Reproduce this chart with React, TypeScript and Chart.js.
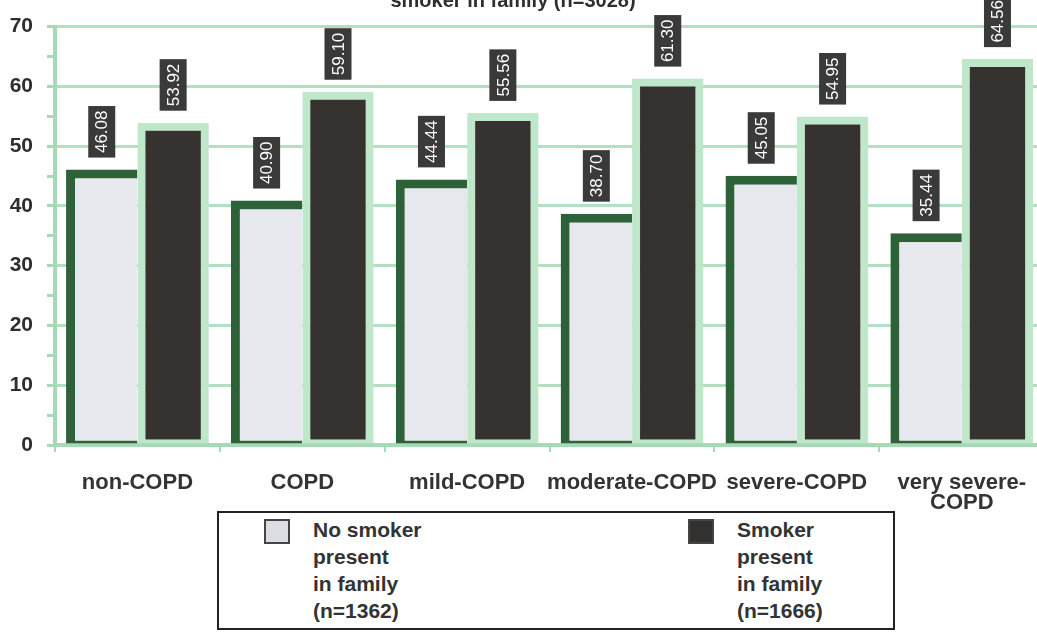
import React, { useEffect, useRef } from "react";
import { Chart, registerables } from "chart.js";

Chart.register(...registerables);

const categories: (string | string[])[] = [
  "non-COPD",
  "COPD",
  "mild-COPD",
  "moderate-COPD",
  "severe-COPD",
  ["very severe-", "COPD"],
];
const noSmoker = [46.08, 40.9, 44.44, 38.7, 45.05, 35.44];
const smoker = [53.92, 59.1, 55.56, 61.3, 54.95, 64.56];
const yMin = 0;
const yMax = 70;
const yStep = 5;
const titleText = "smoker in family (n=3028)";
const legendNoSmoker = ["No smoker", "present", "in family", "(n=1362)"];
const legendSmoker = ["Smoker", "present", "in family", "(n=1666)"];

const FONT = '"Liberation Sans", Arial, sans-serif';
const GRID_GREEN = "#b3e0c1";
const AXIS_GREEN = "#a6d9b4";

const valueBoxes = {
  id: "valueBoxes",
  afterDatasetsDraw(chart: any) {
    const ctx = chart.ctx;
    ctx.save();
    ctx.font = `17px ${FONT}`;
    chart.data.datasets.forEach((ds: any, di: number) => {
      const meta = chart.getDatasetMeta(di);
      meta.data.forEach((el: any, i: number) => {
        const v = ds.data[i] as number;
        const text = v.toFixed(2);
        const tw = ctx.measureText(text).width;
        const bw = 27;
        const bh = tw + 9;
        const cx = el.x;
        const bottom = el.y - 12;
        ctx.fillStyle = "#3a3a3a";
        ctx.fillRect(cx - bw / 2, bottom - bh, bw, bh);
        ctx.save();
        ctx.translate(cx, bottom - bh / 2);
        ctx.rotate(-Math.PI / 2);
        ctx.fillStyle = "#ffffff";
        ctx.textAlign = "center";
        ctx.textBaseline = "middle";
        ctx.fillText(text, 0, 1);
        ctx.restore();
      });
    });
    ctx.restore();
  },
  afterDraw(chart: any) {
    const ctx = chart.ctx;
    ctx.save();
    ctx.font = `bold 20px ${FONT}`;
    ctx.fillStyle = "#2e2e2e";
    ctx.textAlign = "center";
    ctx.textBaseline = "alphabetic";
    ctx.fillText(titleText, 513, 7);
    ctx.restore();
  },
};

function LegendItem({ lines, fill, left }: { lines: string[]; fill: string; left: number }) {
  return (
    <>
      <div
        style={{
          position: "absolute",
          left: left,
          top: 6,
          width: 22,
          height: 21,
          border: "2px solid #444",
          background: fill,
        }}
      />
      <div
        style={{
          position: "absolute",
          left: left + 49,
          top: 3,
          font: `bold 21px ${FONT}`,
          lineHeight: "27px",
          color: "#333",
          whiteSpace: "pre",
        }}
      >
        {lines.map((l, i) => (
          <div key={i}>{l}</div>
        ))}
      </div>
    </>
  );
}

export default function App() {
  const ref = useRef<HTMLCanvasElement | null>(null);

  useEffect(() => {
    if (!ref.current) return;
    const chart = new Chart(ref.current, {
      type: "bar",
      data: {
        labels: categories as any,
        datasets: [
          {
            label: "No smoker present in family (n=1362)",
            data: noSmoker,
            backgroundColor: "#e7e7ee",
            borderColor: "#2d6239",
            borderWidth: { left: 9, top: 9, right: 0, bottom: 3 } as any,
            borderSkipped: false,
          },
          {
            label: "Smoker present in family (n=1666)",
            data: smoker,
            backgroundColor: "#36322f",
            borderColor: "#bfe8cb",
            borderWidth: { left: 8, top: 8, right: 8, bottom: 4 } as any,
            borderSkipped: false,
          },
        ],
      },
      options: {
        responsive: false,
        animation: false,
        devicePixelRatio: 1,
        layout: { padding: { top: 22, right: 0, left: 0, bottom: 0 } },
        plugins: {
          legend: { display: false },
          tooltip: { enabled: false },
          title: { display: false },
        },
        datasets: {
          bar: { categoryPercentage: 0.866, barPercentage: 1.0 },
        },
        scales: {
          x: {
            grid: {
              display: true,
              drawOnChartArea: false,
              color: AXIS_GREEN,
              tickLength: 7,
              lineWidth: 2,
              offset: true,
            },
            border: { display: true, color: AXIS_GREEN, width: 4 },
            ticks: {
              color: "#333",
              font: { family: FONT, size: 22, weight: "bold", lineHeight: 0.92 },
              padding: 21,
              maxRotation: 0,
              autoSkip: false,
            },
            afterFit(scale: any) {
              scale.height = 632 - 445;
            },
          },
          y: {
            min: yMin,
            max: yMax,
            ticks: {
              stepSize: yStep,
              color: "#2e2e2e",
              font: { family: FONT, size: 21, weight: "bold" },
              padding: 14,
              callback: (v: any) => (Number(v) % 10 === 0 ? String(v) : ""),
            },
            grid: {
              color: (c: any) => (c.tick && c.tick.value % 10 === 0 ? GRID_GREEN : "rgba(0,0,0,0)"),
              tickColor: AXIS_GREEN,
              lineWidth: 3,
              tickLength: 8,
            },
            border: { display: true, color: AXIS_GREEN, width: 4 },
            afterFit(scale: any) {
              scale.width = 55;
            },
          },
        },
      },
      plugins: [valueBoxes],
    });
    return () => chart.destroy();
  }, []);

  return (
    <div
      style={{
        position: "fixed",
        left: 0,
        top: 0,
        width: 1037,
        height: 632,
        overflow: "hidden",
        background: "#ffffff",
      }}
    >
      <canvas ref={ref} width={1047} height={632} style={{ display: "block", width: 1047, height: 632 }} />
      <div
        style={{
          position: "absolute",
          left: 217,
          top: 511,
          width: 674,
          height: 115,
          border: "2px solid #222",
          background: "#ffffff",
        }}
      >
        <LegendItem lines={legendNoSmoker} fill="#dcdde3" left={45} />
        <LegendItem lines={legendSmoker} fill="#333030" left={469} />
      </div>
    </div>
  );
}
